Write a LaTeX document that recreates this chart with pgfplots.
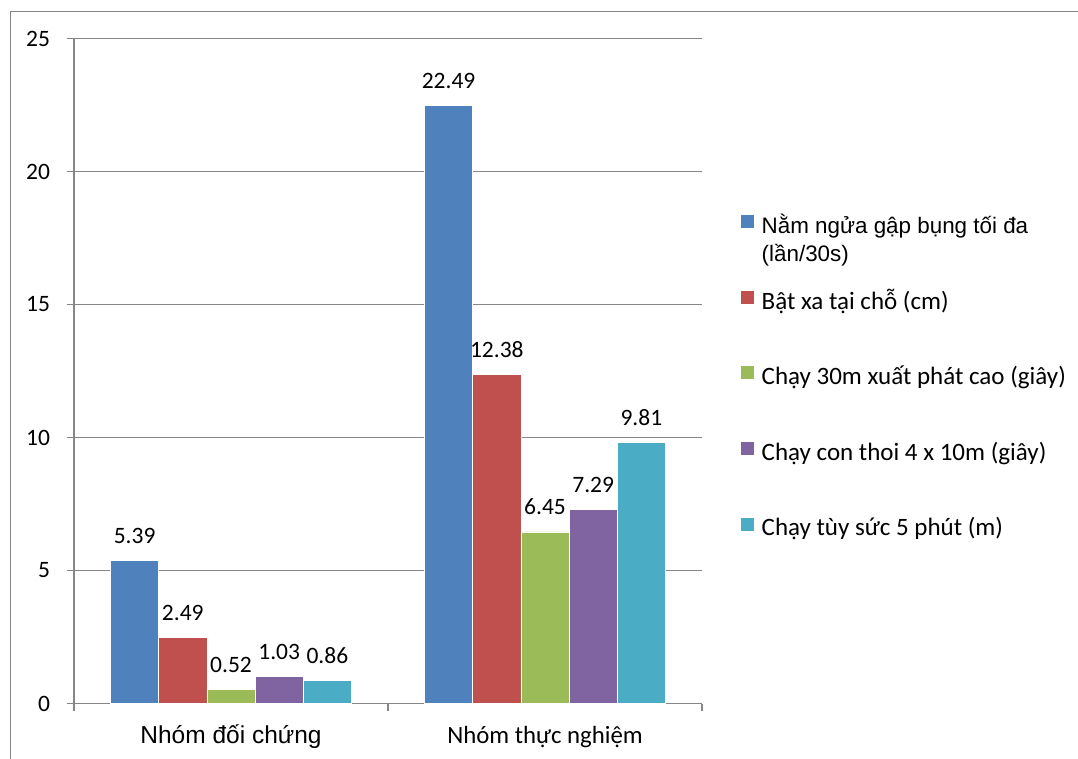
\documentclass[border=0pt]{standalone}
\usepackage{fontspec}
\setmainfont{Carlito}
\newfontfamily\arial{Liberation Sans}
\usepackage{pgfplots}
\pgfplotsset{compat=1.18}
\definecolor{cblue}{HTML}{4F81BD}
\definecolor{cred}{HTML}{C0504D}
\definecolor{cgreen}{HTML}{9BBB59}
\definecolor{cpurple}{HTML}{8064A2}
\definecolor{ccyan}{HTML}{4BACC6}
\definecolor{axgray}{HTML}{868686}
\begin{document}
\begin{tikzpicture}
\useasboundingbox (0,0) rectangle (1078bp,759bp);
\fill[white] (0,0) rectangle (1078bp,759bp);
\draw[axgray, line width=1bp] (10bp,-5bp) -- (10bp,747.5bp) -- (1083bp,747.5bp);
\begin{axis}[
  at={(74bp,55.5bp)}, anchor=south west,
  scale only axis, width=628bp, height=665bp,
  ybar=0pt, bar width=48.2bp,
  xmin=-0.5, xmax=1.5, ymin=0, ymax=25,
  enlargelimits=false,
  ytick={0,5,10,15,20,25},
  xtick={-0.5,0.5,1.5},
  x tick label as interval,
  xticklabels={{\arial\fontsize{24.5bp}{28bp}\selectfont Nhóm đối chứng},{\fontsize{24.8bp}{28bp}\selectfont Nhóm thực nghiệm}},
  axis x line*=bottom, axis y line*=left,
  ymajorgrids,
  tick align=outside,
  major tick length=7.5bp,
  tick style={axgray, line width=1.3bp},
  grid style={axgray, line width=1.3bp},
  axis line style={axgray, line width=1.3bp},
  /pgf/number format/assume math mode=true,
  yticklabel style={anchor=east, inner sep=0pt, xshift=-16.3bp, font=\fontsize{23.5bp}{28bp}\selectfont},
  xticklabel style={anchor=base, inner sep=0pt, yshift=-32.5bp},
  nodes near coords,
  every node near coord/.append style={anchor=base, yshift=17bp, inner sep=0pt, text=black, font=\fontsize{23.5bp}{28bp}\selectfont, /pgf/number format/fixed, /pgf/number format/precision=2, /pgf/number format/fixed zerofill},
  legend style={at={(1.0616,0.7342)}, anchor=north west, draw=none, fill=none, inner sep=0pt, outer sep=0pt, row sep=52.4bp, column sep=8bp, nodes={inner sep=0pt, text height=16bp, text depth=5bp}, font=\fontsize{25bp}{28bp}\selectfont},
  legend cell align=left,
  legend image code/.code={\fill[#1,draw=none] (0bp,-0.3bp) rectangle (13bp,12.7bp);},
]
\addplot[fill=cblue, draw=white, line width=0.5bp] coordinates {(0,5.39) (1,22.49)};
\addlegendentry{\smash{\arial\fontsize{22.4bp}{28bp}\selectfont\begin{tabular}[t]{@{}l@{}}Nằm ngửa gập bụng tối đa\\(lần/30s)\end{tabular}}}
\addplot[fill=cred, draw=white, line width=0.5bp] coordinates {(0,2.49) (1,12.38)};
\addlegendentry{Bật xa tại chỗ (cm)}
\addplot[fill=cgreen, draw=white, line width=0.5bp] coordinates {(0,0.52) (1,6.45)};
\addlegendentry{Chạy 30m xuất phát cao (giây)}
\addplot[fill=cpurple, draw=white, line width=0.5bp] coordinates {(0,1.03) (1,7.29)};
\addlegendentry{Chạy con thoi 4 x 10m (giây)}
\addplot[fill=ccyan, draw=white, line width=0.5bp] coordinates {(0,0.86) (1,9.81)};
\addlegendentry{Chạy tùy sức 5 phút (m)}
\end{axis}
\end{tikzpicture}
\end{document}
